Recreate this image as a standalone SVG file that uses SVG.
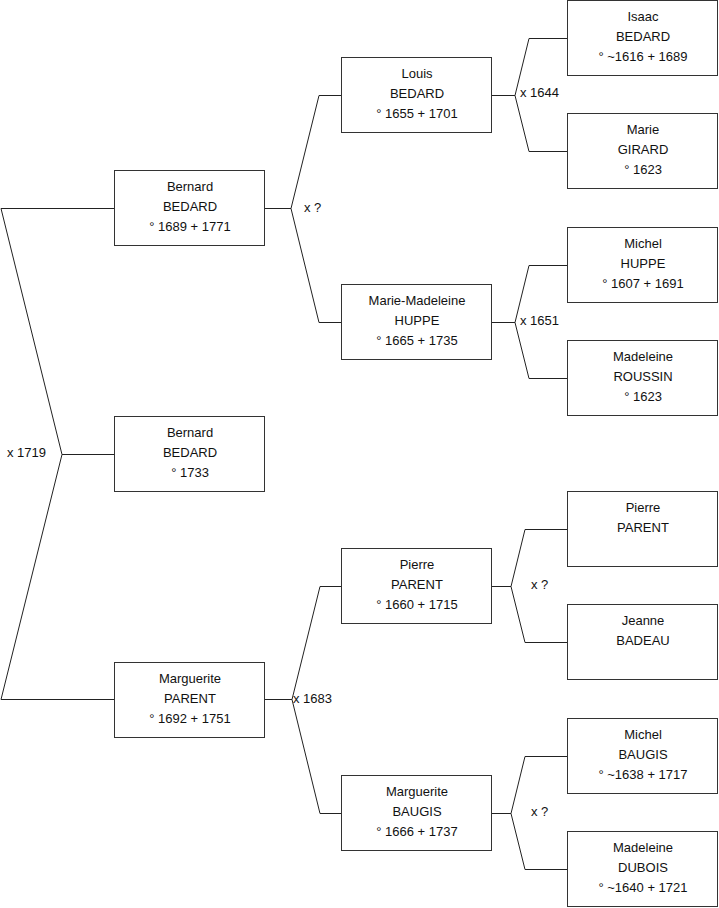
<svg xmlns="http://www.w3.org/2000/svg" width="719" height="908" viewBox="0 0 719 908">
<style>
rect.box{fill:#fff;stroke:#333;stroke-width:1}
.c{fill:none;stroke:#222;stroke-width:1}
text{font-family:"Liberation Sans",Arial,sans-serif;font-size:13px;fill:#111}
.n{text-anchor:middle}
</style>
<rect width="719" height="908" fill="#fff"/>
<g id="connectors">
<path class="c" d="M1,208.5H114.5 M1,208.5L62,454.5L1,699.5H114.5 M62,454.5H114.5"/>
<path class="c" d="M265,208.5H291L319,95.5H341.5 M291,208.5L319,322.5H341.5"/>
<path class="c" d="M265,699.5H292L320,586.5H341.5 M292,699.5L320,813.5H341.5"/>
<path class="c" d="M492,95.5H515L529,38.5H567.5 M515,95.5L529,151.5H567.5"/>
<path class="c" d="M492,322.5H515L529,265.5H567.5 M515,322.5L529,378.5H567.5"/>
<path class="c" d="M492,586.5H511L525,529.5H567.5 M511,586.5L525,642.5H567.5"/>
<path class="c" d="M492,813.5H511L525,756.5H567.5 M511,813.5L525,869.5H567.5"/>
<text x="7" y="457">x 1719</text>
<text x="304" y="212">x ?</text>
<text x="293" y="703">x 1683</text>
<text x="520" y="97">x 1644</text>
<text x="520" y="325">x 1651</text>
<text x="531" y="589">x ?</text>
<text x="531" y="816">x ?</text>
</g>
<g id="n1"><rect class="box" x="114.5" y="170.5" width="150" height="75"/><text class="n" x="190" y="191">Bernard</text><text class="n" x="190" y="211">BEDARD</text><text class="n" x="190" y="231">° 1689 + 1771</text></g>
<g id="n2"><rect class="box" x="114.5" y="416.5" width="150" height="75"/><text class="n" x="190" y="437">Bernard</text><text class="n" x="190" y="457">BEDARD</text><text class="n" x="190" y="477">° 1733</text></g>
<g id="n3"><rect class="box" x="114.5" y="662.5" width="150" height="75"/><text class="n" x="190" y="683">Marguerite</text><text class="n" x="190" y="703">PARENT</text><text class="n" x="190" y="723">° 1692 + 1751</text></g>
<g id="n4"><rect class="box" x="341.5" y="57.5" width="150" height="75"/><text class="n" x="417" y="78">Louis</text><text class="n" x="417" y="98">BEDARD</text><text class="n" x="417" y="118">° 1655 + 1701</text></g>
<g id="n5"><rect class="box" x="341.5" y="284.5" width="150" height="75"/><text class="n" x="417" y="305">Marie-Madeleine</text><text class="n" x="417" y="325">HUPPE</text><text class="n" x="417" y="345">° 1665 + 1735</text></g>
<g id="n6"><rect class="box" x="341.5" y="548.5" width="150" height="75"/><text class="n" x="417" y="569">Pierre</text><text class="n" x="417" y="589">PARENT</text><text class="n" x="417" y="609">° 1660 + 1715</text></g>
<g id="n7"><rect class="box" x="341.5" y="775.5" width="150" height="75"/><text class="n" x="417" y="796">Marguerite</text><text class="n" x="417" y="816">BAUGIS</text><text class="n" x="417" y="836">° 1666 + 1737</text></g>
<g id="n8"><rect class="box" x="567.5" y="0.5" width="150" height="75"/><text class="n" x="643" y="21">Isaac</text><text class="n" x="643" y="41">BEDARD</text><text class="n" x="643" y="61">° ~1616 + 1689</text></g>
<g id="n9"><rect class="box" x="567.5" y="113.5" width="150" height="75"/><text class="n" x="643" y="134">Marie</text><text class="n" x="643" y="154">GIRARD</text><text class="n" x="643" y="174">° 1623</text></g>
<g id="n10"><rect class="box" x="567.5" y="227.5" width="150" height="75"/><text class="n" x="643" y="248">Michel</text><text class="n" x="643" y="268">HUPPE</text><text class="n" x="643" y="288">° 1607 + 1691</text></g>
<g id="n11"><rect class="box" x="567.5" y="340.5" width="150" height="75"/><text class="n" x="643" y="361">Madeleine</text><text class="n" x="643" y="381">ROUSSIN</text><text class="n" x="643" y="401">° 1623</text></g>
<g id="n12"><rect class="box" x="567.5" y="491.5" width="150" height="75"/><text class="n" x="643" y="512">Pierre</text><text class="n" x="643" y="532">PARENT</text></g>
<g id="n13"><rect class="box" x="567.5" y="604.5" width="150" height="75"/><text class="n" x="643" y="625">Jeanne</text><text class="n" x="643" y="645">BADEAU</text></g>
<g id="n14"><rect class="box" x="567.5" y="718.5" width="150" height="75"/><text class="n" x="643" y="739">Michel</text><text class="n" x="643" y="759">BAUGIS</text><text class="n" x="643" y="779">° ~1638 + 1717</text></g>
<g id="n15"><rect class="box" x="567.5" y="831.5" width="150" height="75"/><text class="n" x="643" y="852">Madeleine</text><text class="n" x="643" y="872">DUBOIS</text><text class="n" x="643" y="892">° ~1640 + 1721</text></g>
</svg>
